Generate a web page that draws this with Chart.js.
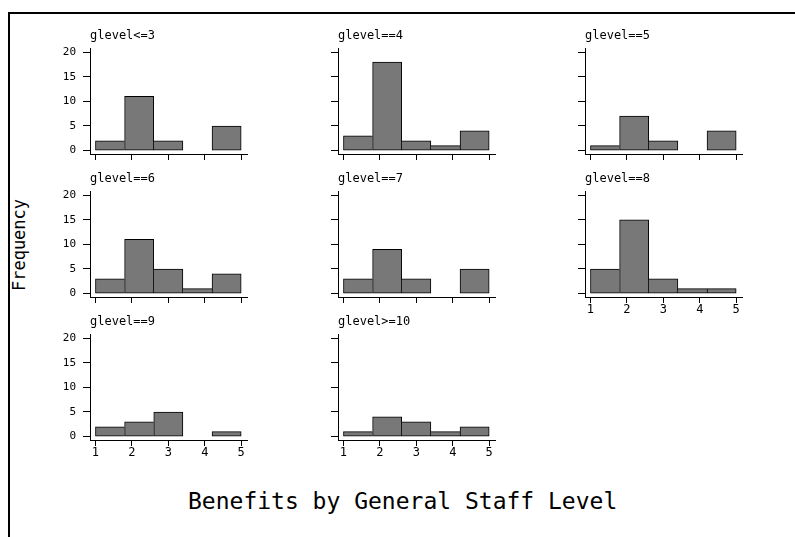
<!DOCTYPE html>
<html>
<head>
<meta charset="utf-8">
<script src="https://cdn.jsdelivr.net/npm/chart.js@4.4.1/dist/chart.umd.min.js"></script>
<style>
  html, body { margin:0; padding:0; background:#fff; }
  #page { position:relative; width:795px; height:537px; overflow:hidden; background:#fff; }
  #frame { position:absolute; left:8px; top:12px; width:800px; height:600px; border-left:2px solid #000; border-top:2px solid #000; }
  canvas { position:absolute; }
  #ytitle { position:absolute; left:-41px; top:235px; width:120px; height:20px; line-height:20px; text-align:center;
            font-family:"DejaVu Sans Mono", monospace; font-size:17px; color:#000; transform:rotate(-90deg); white-space:nowrap; }
  #maintitle { position:absolute; left:188px; top:490px; line-height:23px; font-family:"DejaVu Sans Mono", monospace;
               font-size:23px; color:#000; white-space:nowrap; }
</style>
</head>
<body>
<div id="page">
  <div id="frame"></div>
  <div id="ytitle">Frequency</div>
  <div id="maintitle">Benefits by General Staff Level</div>
</div>
<script>
// ---- data ----
const binCenters = [1.4, 2.2, 3.0, 3.8, 4.6];   // benefit bins (width 0.8, from 1 to 5)
const xTickValues = [1, 2, 3, 4, 5];
const yTickValues = [0, 5, 10, 15, 20];
const panelTitles = ['glevel<=3', 'glevel==4', 'glevel==5', 'glevel==6', 'glevel==7', 'glevel==8', 'glevel==9', 'glevel>=10'];
const glevelLe3  = [2, 11, 2, 0, 5];
const glevel4    = [3, 18, 2, 1, 4];
const glevel5    = [1, 7, 2, 0, 4];
const glevel6    = [3, 11, 5, 1, 4];
const glevel7    = [3, 9, 3, 0, 5];
const glevel8    = [5, 15, 3, 1, 1];
const glevel9    = [2, 3, 5, 0, 1];
const glevelGe10 = [1, 4, 3, 1, 2];
const panelValues = [glevelLe3, glevel4, glevel5, glevel6, glevel7, glevel8, glevel9, glevelGe10];

// ---- layout ----
const colLeft = [50, 298, 545];
const rowTop = [18, 161, 304];
const CW = 207, CH = 161;
const showYLabels = [true, false, false, true, false, false, true, false];
const showXLabels = [false, false, false, false, false, true, true, true];

Chart.defaults.font.family = '"DejaVu Sans Mono", monospace';
Chart.defaults.color = '#000';

const panelTitlePlugin = {
  id: 'panelTitle',
  afterDraw(chart, args, opts) {
    const { ctx, chartArea } = chart;
    ctx.save();
    ctx.font = '12px "DejaVu Sans Mono", monospace';
    ctx.fillStyle = '#000';
    ctx.textBaseline = 'alphabetic';
    ctx.textAlign = 'left';
    ctx.fillText(opts.text, chartArea.left, chartArea.top - 9);
    ctx.restore();
  }
};

const page = document.getElementById('page');
panelValues.forEach((vals, p) => {
  const c = document.createElement('canvas');
  c.width = CW; c.height = CH;
  c.style.left = colLeft[p % 3] + 'px';
  c.style.top = rowTop[Math.floor(p / 3)] + 'px';
  c.style.width = CW + 'px'; c.style.height = CH + 'px';
  page.appendChild(c);

  const points = binCenters.map((x, i) => ({ x: x, y: vals[i] === 0 ? null : vals[i] }));
  new Chart(c.getContext('2d'), {
    type: 'bar',
    data: {
      datasets: [{
        data: points,
        backgroundColor: '#787878',
        borderColor: '#000',
        borderSkipped: false,
        borderWidth: (ctx) => {
          const i = ctx.dataIndex;
          const cur = vals[i];
          const prev = i > 0 ? vals[i - 1] : 0;
          const next = i < vals.length - 1 ? vals[i + 1] : 0;
          return { top: 1, bottom: 1, left: prev <= cur ? 1 : 0, right: next < cur ? 1 : 0 };
        },
        barPercentage: 1,
        categoryPercentage: 1
      }]
    },
    options: {
      responsive: false,
      animation: false,
      devicePixelRatio: 1,
      layout: { padding: { top: 30, right: 10, left: 0, bottom: 0 } },
      plugins: {
        legend: { display: false },
        tooltip: { enabled: false },
        title: { display: false },
        panelTitle: { text: panelTitles[p] }
      },
      scales: {
        x: {
          type: 'linear',
          min: 0.85, max: 5.16,
          offset: false,
          grid: { display: true, drawOnChartArea: false, drawTicks: true, tickLength: 6, color: '#000', offset: false },
          border: { display: true, color: '#000', width: 1 },
          afterBuildTicks: (s) => { s.ticks = xTickValues.map(v => ({ value: v })); },
          afterFit: (s) => { s.height = 25; },
          ticks: {
            padding: 0,
            maxRotation: 0,
            autoSkip: false,
            font: { size: 12 },
            callback: (v) => showXLabels[p] ? String(v) : ''
          }
        },
        y: {
          type: 'linear',
          min: -0.7, max: 20.85,
          grid: { display: true, drawOnChartArea: false, drawTicks: true, tickLength: 7, color: '#000' },
          border: { display: true, color: '#000', width: 1 },
          afterBuildTicks: (s) => { s.ticks = yTickValues.map(v => ({ value: v })); },
          afterFit: (s) => { s.width = 40; },
          ticks: {
            padding: 7,
            autoSkip: false,
            font: { size: 11 },
            callback: (v) => showYLabels[p] ? String(v) : ''
          }
        }
      }
    },
    plugins: [panelTitlePlugin]
  });
});
</script>
</body>
</html>
